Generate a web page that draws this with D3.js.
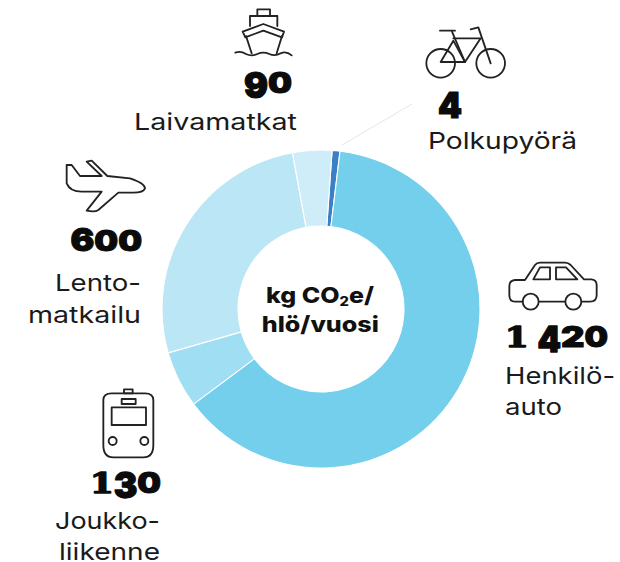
<!DOCTYPE html>
<html><head><meta charset="utf-8">
<script src="https://cdnjs.cloudflare.com/ajax/libs/d3/7.8.5/d3.min.js"></script>
<style>html,body{margin:0;padding:0;background:#fff}svg{display:block}</style>
</head><body><svg id="c" width="620" height="562"></svg>
<script>
const categories=["Polkupyörä","Henkilöauto","Joukkoliikenne","Lentomatkailu","Laivamatkat"];
const values=[4,1420,130,600,90];
const minDrawnValue=18; // the source draws the tiny 4 kg slice wider than its true share
const colors=["#3b7fc4","#74cfec","#a0def3","#bbe6f6","#ceedf9"];
const valueLabels=["4","1 420","130","600","90"];
const nameLines=[["Polkupyörä"],["Henkilö-","auto"],["Joukko-","liikenne"],["Lento-","matkailu"],["Laivamatkat"]];
const svg=d3.select("#c");
const a0=4*Math.PI/180;
const pie=d3.pie().sort(null).value(d=>Math.max(d,minDrawnValue)).startAngle(a0).endAngle(2*Math.PI+a0);
const arc=d3.arc().innerRadius(83).outerRadius(159);
const g=svg.append("g").attr("transform","translate(321,309)");
g.selectAll("path").data(pie(values)).join("path").attr("d",arc).attr("fill",(d,i)=>colors[i]).attr("stroke","#fff").attr("stroke-width",1.1);
svg.append("line").attr("x1",342).attr("y1",145).attr("x2",412).attr("y2",104).attr("stroke","#e6e6e6").attr("stroke-width",1);

const layout=[
 {nl:438,nr:462,ny:112.5,a:"start",lx:428,ly:[148.5],lw:[149]},
 {nl:505,nr:608,ny:346.5,a:"start",lx:505,ly:[384,414.5],lw:[110,57]},
 {nl:90,nr:161,ny:492.5,a:"end",lx:160,ly:[529,560],lw:[105,101]},
 {nl:70.5,nr:142,ny:250.5,a:"end",lx:141,ly:[290.5,322.5],lw:[86,113]},
 {nl:244,nr:292,ny:92.5,a:"end",lx:297,ly:[129.5],lw:[163]}
];
const font="Inter, 'Liberation Sans', sans-serif";
const descending="349";
function drawNumber(str,l){
 const ng=svg.append("g");
 const fs=28, cap=20.4;
 const cell=(l.nr-l.nl-(str.includes(" ")?9:0))/str.replace(" ","").length;
 let x=l.nl;
 Array.from(str).forEach(c=>{
  if(c===" "){x+=9;return;}
  const slab=c==="1";
  const t=ng.append("text").text(c).attr("font-family",slab?"'DejaVu Serif'":font).attr("font-weight",slab?700:900).attr("font-size",fs)
   .attr("fill","#0b0b0b").attr("stroke","#0b0b0b").attr("stroke-width",slab?1.3:1).attr("stroke-linejoin","round").attr("text-anchor","middle");
  const w=t.node().getBBox().width;
  const sx=(slab?cell+0.5:cell)/w;
  const desc=descending.includes(c);
  const sy=desc?1.25:(c==="6"?1.12:1);
  const y=desc?l.ny+(sy-1)*cap:l.ny;
  t.attr("transform",`translate(${x+cell/2},${y}) scale(${sx},${sy})`);
  x+=cell;
 });
}
layout.forEach((l,i)=>{
 drawNumber(valueLabels[i],l);
 nameLines[i].forEach((t,j)=>{
  svg.append("text").text(t).attr("x",l.lx).attr("y",l.ly[j]).attr("text-anchor",l.a)
   .attr("font-family",font).attr("font-weight",400).attr("font-size",23.5).attr("fill","#1a1a1a")
   .attr("textLength",l.lw[j]).attr("lengthAdjust","spacingAndGlyphs");
 });
});
const t1=svg.append("text").attr("x",320).attr("y",302.5).attr("text-anchor","middle").attr("font-family",font).attr("font-weight",800).attr("font-size",22).attr("fill","#111").attr("textLength",108).attr("lengthAdjust","spacingAndGlyphs");
t1.append("tspan").text("kg CO");
t1.append("tspan").text("2").attr("font-size",13).attr("dy",3);
t1.append("tspan").text("e/").attr("dy",-3);
svg.append("text").text("hlö/vuosi").attr("x",320.3).attr("y",331.5).attr("text-anchor","middle").attr("font-family",font).attr("font-weight",800).attr("font-size",22).attr("fill","#111").attr("textLength",117).attr("lengthAdjust","spacingAndGlyphs");

function icon(ox,oy,items){
 const ig=svg.append("g").attr("transform",`translate(${ox},${oy}) scale(${1/3})`).attr("fill","none").attr("stroke","#222").attr("stroke-width",5.5).attr("stroke-linejoin","round").attr("stroke-linecap","round");
 items.forEach(d=>ig.append("path").attr("d",d));
}
const circ=(x,y,r)=>`M${x-r},${y}a${r},${r} 0 1,0 ${2*r},0a${r},${r} 0 1,0 ${-2*r},0Z`;
icon(220,0,[
 "M112,48V28H150V48","M90,78V48H172V78","M68,95L130,72L192,95L186,112L130,92L76,112Z","M78,108L95,160","M186,108L170,160",
 "M46,158Q62,152 78,162Q95,170 112,162Q130,154 148,162Q165,170 182,160Q198,152 215,166",
 circ(662,190,43),circ(812,190,43),"M662,186H735L700,122Z","M700,115H782L735,186","M696,95L735,186","M660,92H705","M752,88L775,82L812,190"
]);
icon(490,250,[
 "M98,155H75Q58,155 58,135V108Q58,92 75,90H105L135,45Q140,38 150,38H225Q235,38 242,45L282,88H305Q320,90 320,105V135Q320,155 300,155H275","M148,155H225",
 circ(122,155,24),circ(250,155,24),"M130,88L150,52H180V88Z","M198,52H228L262,88H198Z"
]);
icon(20,150,[
 "M140,45H155L180,78H245L200,35L215,32L262,78L330,85Q375,100 375,115Q370,128 340,128H295L235,180Q225,187 200,182L245,125H185Q150,125 140,100Z"
]);
icon(40,380,[
 "M190,60Q190,40 215,40H315Q340,40 340,60V195Q340,232 310,232H220Q190,232 190,195Z","M215,82H318V135H215Z","M245,57H287V72H245Z",
 circ(218,183,12),circ(313,183,12),"M252,28H278V40H252Z"
]);
</script></body></html>
